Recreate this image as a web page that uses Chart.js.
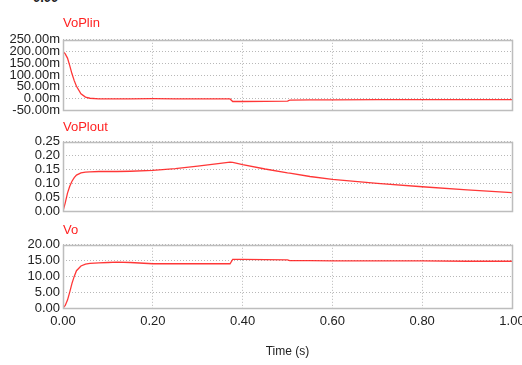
<!DOCTYPE html>
<html lang="en">
<head>
  <meta charset="UTF-8">
  <title>VoPlin / VoPlout / Vo</title>
  <script src="https://cdn.jsdelivr.net/npm/chart.js"></script>
  <style>
    body {
      margin: 0;
      width: 522px;
      height: 365px;
      background: #ffffff;
      position: relative;
      overflow: hidden;
      font-family: Arial, 'Liberation Sans', sans-serif;
    }
    .panel {
      position: absolute;
      left: 0;
      width: 522px;
    }
    .label {
      position: absolute;
      left: 63px;
      font-size: 13px;
      color: #f22;
      z-index: 2;
    }
    .cut {
      position: absolute;
      left: 33px;
      top: -10px;
      font-size: 13px;
      font-weight: bold;
      color: #222;
    }
  </style>
</head>
<body>

  <div class="cut">0.00</div>

  <div class="label" style="top: 15px;">VoPlin</div>
  <div class="panel" style="top: 29px; height: 92px;"><canvas id="chartPlin"></canvas></div>

  <div class="label" style="top: 119px;">VoPlout</div>
  <div class="panel" style="top: 131px; height: 91px;"><canvas id="chartPlout"></canvas></div>

  <div class="label" style="top: 222px;">Vo</div>
  <div class="panel" style="top: 234px; height: 131px;"><canvas id="chartVo"></canvas></div>

  <script>
    // time samples (s)
    const time = [0, 0.005, 0.01, 0.015, 0.02, 0.025, 0.03, 0.04, 0.05, 0.06, 0.08, 0.1, 0.12, 0.15, 0.2, 0.25, 0.3, 0.35, 0.372, 0.378, 0.4, 0.45, 0.5, 0.505, 0.55, 0.6, 0.7, 0.8, 0.9, 1.0];

    // VoPlin in milli-units
    const voPlin = [200, 190, 172, 140, 105, 76, 52, 20, 6, 1, -2, -2, -2, -2, -1, -2, -2, -2, -2, -13, -13, -12, -11, -7, -6, -6, -5, -5, -5, -5];

    const voPlout = [0, 0.03, 0.065, 0.09, 0.108, 0.121, 0.13, 0.138, 0.141, 0.142, 0.143, 0.143, 0.143, 0.144, 0.147, 0.153, 0.162, 0.172, 0.177, 0.176, 0.168, 0.152, 0.138, 0.137, 0.125, 0.115, 0.1, 0.088, 0.077, 0.067];

    const vo = [0, 0.8, 2.5, 5.0, 7.8, 10.0, 11.8, 13.3, 13.9, 14.1, 14.3, 14.4, 14.5, 14.4, 14.0, 14.0, 14.0, 14.0, 14.0, 15.4, 15.4, 15.3, 15.2, 15.0, 15.0, 14.9, 14.9, 14.9, 14.8, 14.8];

    const xTicks = { min: 0, max: 1, step: 0.2 };

    const GRID_COLOR = '#b8b8b8';
    const TICK_FONT = { family: "Arial, 'Liberation Sans', sans-serif", size: 13 };

    // solid frame round the plot area
    const frame = {
      id: 'frame',
      afterDraw(chart) {
        const a = chart.chartArea;
        const ctx = chart.ctx;
        ctx.save();
        ctx.strokeStyle = '#bdbdbd';
        ctx.lineWidth = 1.5;
        ctx.strokeRect(Math.round(a.left) + 0.5, Math.round(a.top) + 0.5,
          Math.round(a.right - a.left), Math.round(a.bottom - a.top));
        ctx.restore();
      }
    };

    function makeChart(id, values, yMin, yMax, yStep, fmt, showX) {
      const points = time.map((t, i) => ({ x: t, y: values[i] }));
      return new Chart(document.getElementById(id), {
        type: 'line',
        data: {
          datasets: [{
            data: points,
            borderColor: 'rgba(255, 20, 20, 0.85)',
            borderWidth: 1.3,
            pointRadius: 0,
            tension: 0,
            fill: false
          }]
        },
        options: {
          responsive: true,
          maintainAspectRatio: false,
          animation: false,
          layout: { padding: { top: 10, right: 10, bottom: showX ? 6 : 10, left: 0 } },
          plugins: { legend: { display: false }, tooltip: { enabled: false } },
          scales: {
            x: {
              type: 'linear',
              min: xTicks.min,
              max: xTicks.max,
              border: { display: false, dash: [1, 2] },
              grid: { color: GRID_COLOR, drawTicks: false, lineWidth: 1 },
              ticks: {
                display: showX,
                stepSize: xTicks.step,
                padding: 6,
                color: '#222',
                font: TICK_FONT,
                maxRotation: 0,
                callback: v => v.toFixed(2)
              },
              title: {
                display: showX,
                text: 'Time (s)',
                color: '#222',
                font: { family: "Arial, 'Liberation Sans', sans-serif", size: 12 },
                padding: { top: 9, bottom: 0 }
              },
              afterFit(scale) {
                scale.paddingLeft = 0;
                scale.paddingRight = 0;
              }
            },
            y: {
              min: yMin,
              max: yMax,
              border: { display: false, dash: [1, 2] },
              grid: { color: GRID_COLOR, drawTicks: false },
              ticks: {
                stepSize: yStep,
                autoSkip: false,
                padding: 3,
                color: '#222',
                font: TICK_FONT,
                callback: fmt
              },
              afterFit(scale) {
                scale.width = 63;
              }
            }
          }
        },
        plugins: [frame]
      });
    }

    makeChart('chartPlin', voPlin, -50, 250, 50, v => v.toFixed(2) + 'm', false);
    makeChart('chartPlout', voPlout, 0, 0.25, 0.05, v => v.toFixed(2), false);
    makeChart('chartVo', vo, 0, 20, 5, v => v.toFixed(2), true);
  </script>

</body>
</html>
